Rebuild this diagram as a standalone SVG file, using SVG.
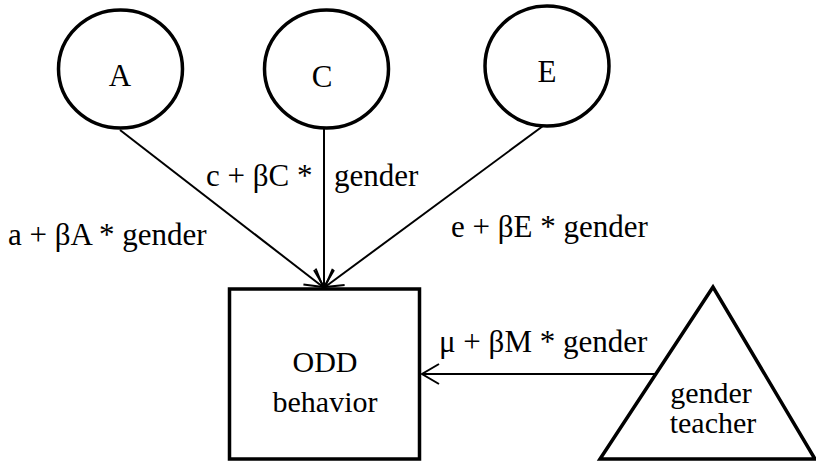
<svg xmlns="http://www.w3.org/2000/svg" width="816" height="461" viewBox="0 0 816 461">
<style>
.t{font-family:"Times New Roman","Liberation Serif","DejaVu Serif",serif;font-size:30px;fill:#000}
.lbl{font-size:31px}
.big{font-size:31px}
</style>
<defs>
<marker id="arr" markerUnits="userSpaceOnUse" markerWidth="40" markerHeight="40" refX="0" refY="0" viewBox="-20 -20 40 40" orient="auto">
<path d="M-17,-10 L0,0 L-17,10" fill="none" stroke="#000" stroke-width="2"/>
</marker>
</defs>
<rect width="816" height="461" fill="#fff"/>
<g id="connectors" stroke="#000" stroke-width="2" fill="none">
<line x1="120" y1="130" x2="323" y2="287" marker-end="url(#arr)"/>
<line x1="324" y1="128" x2="324" y2="287" marker-end="url(#arr)"/>
<line x1="543" y1="126" x2="325" y2="287" marker-end="url(#arr)"/>
<line x1="657" y1="374" x2="422" y2="374" marker-end="url(#arr)"/>
</g>
<g id="labels">
<text class="t lbl" x="8" y="245">a + βA * gender</text>
<text class="t lbl" y="186"><tspan x="206">c + βC * </tspan><tspan x="334">gender</tspan></text>
<text class="t lbl" x="451" y="237">e + βE * gender</text>
<text class="t lbl" x="439" y="352">μ + βM * gender</text>
</g>
<g id="A">
<ellipse cx="120.5" cy="69" rx="62" ry="59" fill="#fff" stroke="#000" stroke-width="3.5"/>
<text class="t big" x="120" y="86" text-anchor="middle">A</text>
</g>
<g id="C">
<ellipse cx="326.5" cy="69" rx="62" ry="59" fill="#fff" stroke="#000" stroke-width="3.5"/>
<text class="t big" x="322" y="87" text-anchor="middle">C</text>
</g>
<g id="E">
<ellipse cx="547" cy="66" rx="62" ry="60" fill="#fff" stroke="#000" stroke-width="3.5"/>
<text class="t big" x="547" y="82" text-anchor="middle">E</text>
</g>
<g id="ODD">
<rect x="229.5" y="289" width="190" height="170" fill="#fff" stroke="#000" stroke-width="3.5"/>
<text class="t" x="325" y="372" text-anchor="middle">ODD</text>
<text class="t" x="325" y="412" text-anchor="middle">behavior</text>
</g>
<g id="teacher">
<polygon points="713,287 600,459 815,459" fill="#fff" stroke="#000" stroke-width="3.5"/>
<text class="t" x="711" y="403" text-anchor="middle">gender</text>
<text class="t" x="713" y="433" text-anchor="middle">teacher</text>
</g>
</svg>
